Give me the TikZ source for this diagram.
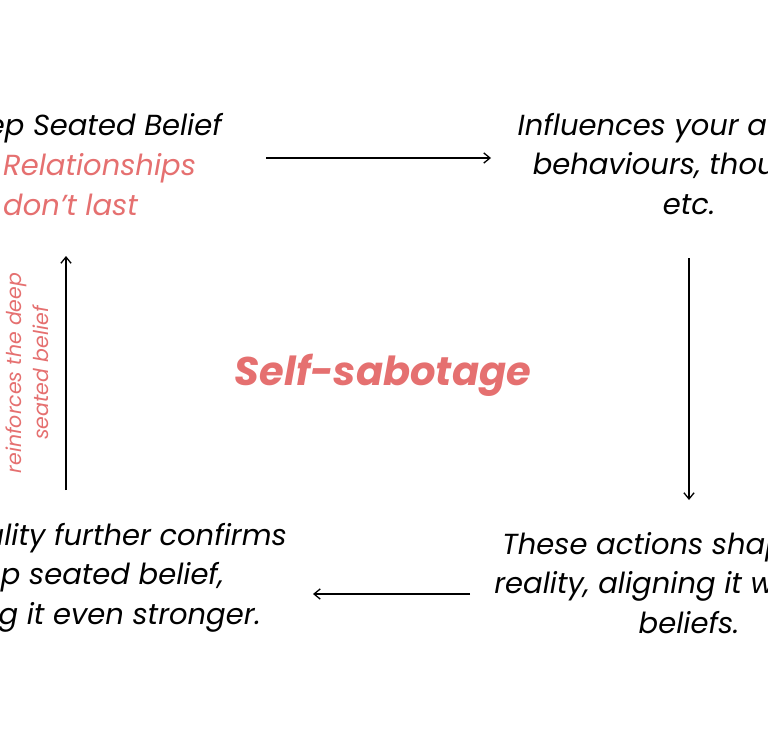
\documentclass[tikz,border=0pt]{standalone}
\usepackage{fontspec}
\setmainfont{Poppins}
\usepackage{tikz}
\usetikzlibrary{arrows.meta, positioning, calc}
\definecolor{sred}{RGB}{229,112,112}
\tikzset{
    steptext/.style={font=\fontsize{29}{39.5}\selectfont\itshape, text=black, align=center, inner sep=0pt},
    flow/.style={-{Straight Barb[length=2.2mm, width=3.6mm]}, line width=1.3pt, black},
}

\begin{document}
\begin{tikzpicture}[
    x=1pt, y=-1pt,
    redtext/.style={steptext, text=sred},
    sidenote/.style={font=\fontsize{20.5}{27}\selectfont\itshape, text=sred, align=center, inner sep=0pt},
    title/.style={font=\fontsize{40}{44}\selectfont\bfseries\itshape, text=sred, inner sep=0pt}
]
\useasboundingbox (0,0) rectangle (768,750);
\clip (0,0) rectangle (768,750);

% Top left: the belief (base anchors sit on the last line)
\node[steptext, anchor=base east] (belief) at (222,135) {Deep Seated Belief};
\node[redtext, align=left, anchor=base west] (example) at (3,215) {Relationships\\don’t last};

% Top right
\node[steptext, anchor=base] (influence) at (689,214) {Influences your actions,\\behaviours, thoughts,\\etc.};

% Bottom right
\node[steptext, anchor=base] (shape) at (689,633) {These actions shape your\\reality, aligning it with your\\beliefs.};

% Bottom left
\node[steptext, anchor=base east] (confirm) at (287,624) {Your reality further confirms\\deep seated belief,\\making it even stronger.};

% Centre
\node[title, anchor=base] (sabotage) at (383,385) {Self-sabotage};

% Arrows
\coordinate (t1) at (266,158);
\coordinate (t2) at (491,158);
\coordinate (r1) at (689,258);
\coordinate (r2) at (689,500);
\coordinate (b1) at (470,594);
\coordinate (b2) at (313,594);
\coordinate (l1) at (66,490);
\coordinate (l2) at (66,256);
\draw[flow] (t1) -- (t2);
\draw[flow] (r1) -- (r2);
\draw[flow] (b1) -- (b2);
\draw[flow] (l1) -- (l2) node[sidenote, midway, rotate=90, yshift=39] (reinforce) {reinforces the deep\\seated belief};

\end{tikzpicture}
\end{document}
